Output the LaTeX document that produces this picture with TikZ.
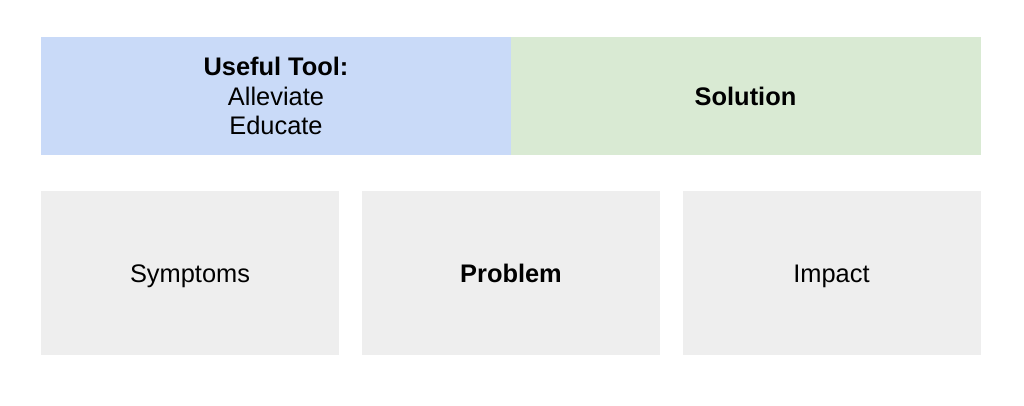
\documentclass[tikz,border=0pt]{standalone}
\usepackage{fontspec}
\setmainfont{Liberation Sans}
\definecolor{toolblue}{HTML}{C9DAF8}
\definecolor{solgreen}{HTML}{D9EAD3}
\definecolor{boxgray}{HTML}{EEEEEE}
\begin{document}
\begin{tikzpicture}[x=1pt,y=-1pt,
  panel/.style={draw=none,inner sep=0pt,align=center,text=black,
    font=\fontsize{25.4}{29.5}\selectfont},
  oneline/.style={text height=18.2pt,text depth=0pt},
]
\useasboundingbox[fill=white] (0,0) rectangle (1024,405);
\node[panel,fill=toolblue,minimum width=470pt,minimum height=118pt] (tool) at (276,96)
  {\textbf{Useful Tool:}\\Alleviate\\Educate};
\node[panel,oneline,fill=solgreen,minimum width=470pt,minimum height=118pt] (sol) at (745.5,96)
  {\textbf{Solution}};
\node[panel,oneline,fill=boxgray,minimum width=298pt,minimum height=164pt] (sym) at (190,273)
  {Symptoms};
\node[panel,oneline,fill=boxgray,minimum width=298pt,minimum height=164pt] (prob) at (511,273)
  {\textbf{Problem}};
\node[panel,oneline,fill=boxgray,minimum width=298pt,minimum height=164pt] (imp) at (831.5,273)
  {Impact};
\end{tikzpicture}
\end{document}
